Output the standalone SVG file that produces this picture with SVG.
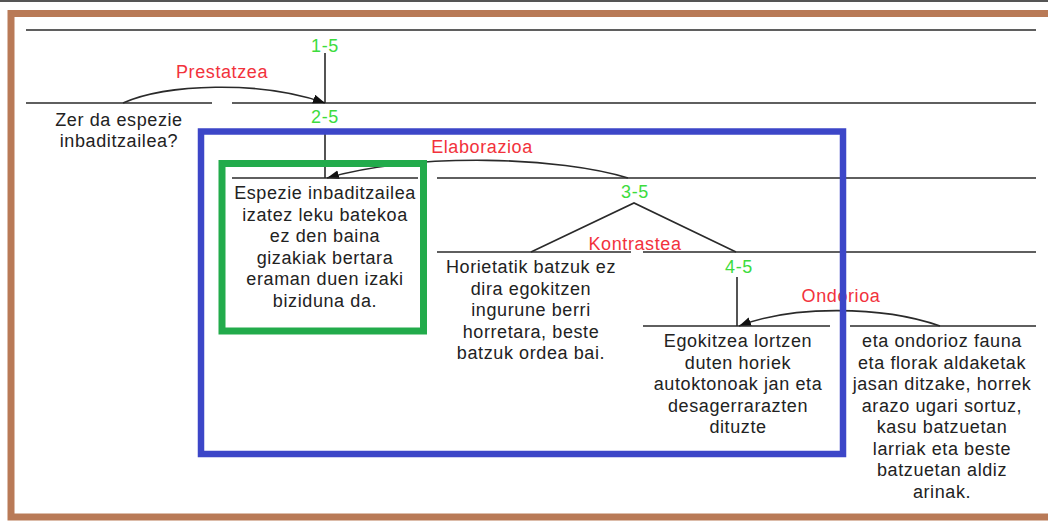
<svg xmlns="http://www.w3.org/2000/svg" width="1048" height="522" viewBox="0 0 1048 522">
  <style>
    .t { font-family: "Liberation Sans", Arial, sans-serif; font-size: 18px; letter-spacing: 0.6px; fill: #222; text-anchor: middle; }
    .lbl { font-family: "Liberation Sans", Arial, sans-serif; font-size: 18px; letter-spacing: 0.6px; fill: #f2323c; text-anchor: middle; }
    .num { font-family: "Liberation Sans", Arial, sans-serif; font-size: 18px; letter-spacing: 0.6px; fill: #3ddc3d; text-anchor: middle; }
    .ln { stroke: #2a2a2a; stroke-width: 1.6; fill: none; }
    .arc { stroke: #2a2a2a; stroke-width: 1.6; fill: none; marker-end: url(#ah); }
  </style>
  <defs>
    <marker id="ah" markerUnits="userSpaceOnUse" markerWidth="14" markerHeight="10" refX="12" refY="4.5" orient="auto">
      <path d="M0,0 L12,4.5 L0,9 z" fill="#111"/>
    </marker>
  </defs>
  <rect width="1048" height="522" fill="#fff"/>
  <line x1="0" y1="1" x2="1048" y2="1" stroke="#555" stroke-width="2"/>
  <rect x="11" y="13.5" width="1060" height="503.5" fill="none" stroke="#b97a57" stroke-width="7"/>

  <g id="levels">
    <line class="ln" x1="26" y1="30" x2="1036" y2="30"/>
    <line class="ln" x1="232" y1="103" x2="1036" y2="103"/>
    <line class="ln" x1="437" y1="178" x2="1036" y2="178"/>
    <line class="ln" x1="437" y1="252" x2="631" y2="252"/>
    <line class="ln" x1="643" y1="252" x2="1036" y2="252"/>
    <text class="num" x="325" y="52">1-5</text>
    <text class="num" x="325" y="123">2-5</text>
    <text class="num" x="635" y="198">3-5</text>
    <text class="num" x="739" y="273">4-5</text>
  </g>

  <g id="connectors">
    <line class="ln" x1="325" y1="53" x2="325" y2="103"/>
    <line class="ln" x1="325" y1="130" x2="325" y2="178"/>
    <line class="ln" x1="737" y1="277" x2="737" y2="326"/>
    <polyline class="ln" points="531,252 634,203 736,252"/>
    <path class="arc" d="M123,103 C165,84 260,80 325,103"/>
    <path class="arc" d="M628,178 C560,157 420,152 327,178"/>
    <path class="arc" d="M940,326 C880,305 790,306 739,326"/>
    <text class="lbl" x="222" y="78">Prestatzea</text>
    <text class="lbl" x="482" y="153">Elaborazioa</text>
    <text class="lbl" x="635" y="250">Kontrastea</text>
    <text class="lbl" x="841" y="302">Ondorioa</text>
  </g>

  <g id="node-question">
    <line class="ln" x1="26" y1="103" x2="212" y2="103"/>
    <text class="t" x="119" y="126">Zer da espezie</text>
    <text class="t" x="119" y="147">inbaditzailea?</text>
  </g>

  <g id="node-definition">
    <line class="ln" x1="232" y1="178" x2="418" y2="178"/>
    <text class="t" x="325" y="199">Espezie inbaditzailea</text>
    <text class="t" x="325" y="220.5">izatez leku batekoa</text>
    <text class="t" x="325" y="242">ez den baina</text>
    <text class="t" x="325" y="263.5">gizakiak bertara</text>
    <text class="t" x="325" y="285">eraman duen izaki</text>
    <text class="t" x="325" y="306.5">biziduna da.</text>
  </g>

  <g id="node-contrast">
    <text class="t" x="531" y="273">Horietatik batzuk ez</text>
    <text class="t" x="531" y="294.5">dira egokitzen</text>
    <text class="t" x="531" y="316">ingurune berri</text>
    <text class="t" x="531" y="337.5">horretara, beste</text>
    <text class="t" x="531" y="359">batzuk ordea bai.</text>
  </g>

  <g id="node-adapt">
    <line class="ln" x1="643" y1="326" x2="830" y2="326"/>
    <text class="t" x="738" y="347">Egokitzea lortzen</text>
    <text class="t" x="738" y="368.5">duten horiek</text>
    <text class="t" x="738" y="390">autoktonoak jan eta</text>
    <text class="t" x="738" y="411.5">desagerrarazten</text>
    <text class="t" x="738" y="433">dituzte</text>
  </g>

  <g id="node-consequence">
    <line class="ln" x1="850" y1="326" x2="1036" y2="326"/>
    <text class="t" x="942" y="347">eta ondorioz fauna</text>
    <text class="t" x="942" y="368.5">eta florak aldaketak</text>
    <text class="t" x="942" y="390">jasan ditzake, horrek</text>
    <text class="t" x="942" y="411.5">arazo ugari sortuz,</text>
    <text class="t" x="942" y="433">kasu batzuetan</text>
    <text class="t" x="942" y="454.5">larriak eta beste</text>
    <text class="t" x="942" y="476">batzuetan aldiz</text>
    <text class="t" x="942" y="497.5">arinak.</text>
  </g>

  <g id="highlight-green">
    <rect x="222" y="163.5" width="201.5" height="167.5" fill="none" stroke="#22ab4b" stroke-width="7"/>
  </g>
  <g id="highlight-blue">
    <rect x="201" y="131.5" width="642" height="322.5" fill="none" stroke="#3c46c8" stroke-width="6.5"/>
  </g>
</svg>
